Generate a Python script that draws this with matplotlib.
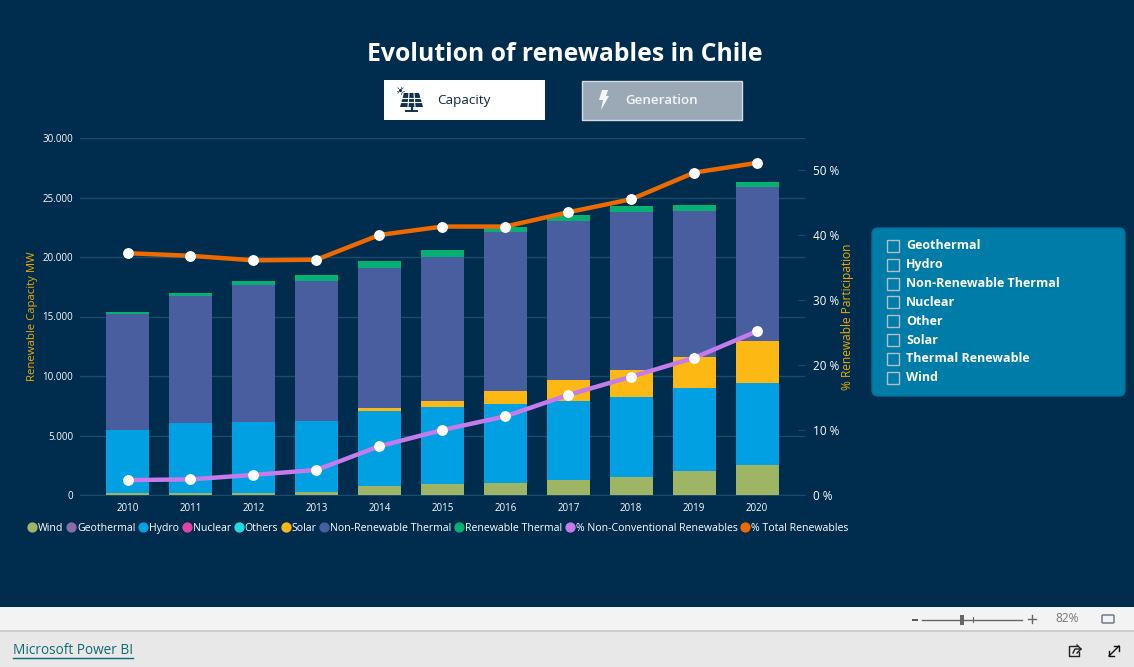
import matplotlib
matplotlib.use("Agg")
import matplotlib.pyplot as plt
import numpy as np
from matplotlib.lines import Line2D
from matplotlib.patches import Rectangle, FancyBboxPatch, Polygon, Circle

W, H = 1134, 667
FONT = "Open Sans"
plt.rcParams["font.family"] = [FONT, "DejaVu Sans"]

years = ["2010", "2011", "2012", "2013", "2014", "2015", "2016", "2017", "2018", "2019", "2020"]
wind = [150, 150, 150, 250, 750, 920, 1000, 1270, 1550, 2000, 2550]
geothermal = [0, 0, 0, 0, 0, 0, 0, 0, 0, 0, 0]
hydro = [5350, 5900, 5950, 5950, 6300, 6480, 6650, 6630, 6650, 7000, 6850]
nuclear = [0, 0, 0, 0, 0, 0, 0, 0, 0, 0, 0]
others = [0, 0, 0, 0, 0, 0, 0, 0, 0, 0, 0]
solar = [0, 0, 0, 20, 250, 500, 1100, 1750, 2300, 2600, 3550]
non_renewable = [9700, 10700, 11550, 11780, 11800, 12100, 13350, 13350, 13300, 12300, 12900]
renewable_thermal = [150, 250, 300, 450, 550, 550, 450, 500, 500, 500, 450]
pct_nonconv = [2.3, 2.4, 3.1, 3.85, 7.5, 10.0, 12.1, 15.4, 18.2, 21.1, 25.2]
pct_total = [37.2, 36.8, 36.1, 36.2, 40.0, 41.3, 41.3, 43.5, 45.5, 49.6, 51.1]
cap_ticks = [0, 5000, 10000, 15000, 20000, 25000, 30000]
pct_ticks = [0, 10, 20, 30, 40, 50]
slicer_items = ["Geothermal", "Hydro", "Non-Renewable Thermal", "Nuclear", "Other", "Solar",
                "Thermal Renewable", "Wind"]

BG = "#002C4D"
ORANGE = "#F2A900"
stack = [("Wind", wind, "#9FB566"), ("Geothermal", geothermal, "#8B6BA8"), ("Hydro", hydro, "#00A0E3"),
         ("Nuclear", nuclear, "#E044A7"), ("Others", others, "#1FDCE0"), ("Solar", solar, "#FDB813"),
         ("Non-Renewable Thermal", non_renewable, "#485E9F"), ("Renewable Thermal", renewable_thermal, "#06B072")]

fig = plt.figure(figsize=(W / 100, H / 100), dpi=100, facecolor=BG)

# page furniture, in pixel coordinates
pg = fig.add_axes([0, 0, 1, 1], zorder=0)
pg.set_xlim(0, W); pg.set_ylim(H, 0); pg.axis("off")
pg.add_patch(Rectangle((0, 607), W, 23, fc="#F3F3F3", ec="none"))
pg.add_patch(Rectangle((0, 630), W, 37, fc="#E8E8E8", ec="none"))
pg.plot([0, W], [630.5, 630.5], color="#C8C8C8", lw=1.2)
pg.text(565, 54.5, "Evolution of renewables in Chile", color="white", fontsize=17.8, weight="bold",
        ha="center", va="center")

# buttons
pg.add_patch(Rectangle((384, 80), 161, 39.5, fc="white", ec="none"))
pg.text(437, 100.5, "Capacity", color="#0B2A45", fontsize=9.7, va="center")
pg.add_patch(Rectangle((581.5, 80.5), 160, 39, fc="#9AA9B5", ec="#D5DCE1", lw=1))
pg.text(625.5, 100.5, "Generation", color="#F4F6F7", fontsize=9.6, weight="semibold", va="center")
# solar panel icon
pg.add_patch(Polygon([(404, 93), (419, 93), (423, 107), (400, 107)], fc="#0E3350", ec="none"))
for y in (97.5, 102):
    pg.plot([401, 422], [y, y], color="white", lw=0.8)
for xb, xt in ((408, 409), (415, 414)):
    pg.plot([xb, xt], [107, 93], color="white", lw=0.8)
pg.plot([411.5, 411.5], [107, 110], color="#0E3350", lw=1.6)
pg.plot([406, 417], [110.5, 110.5], color="#0E3350", lw=1.4)
pg.add_patch(Circle((400.5, 90.5), 1.6, fc="#0E3350", ec="none"))
for a in np.deg2rad(np.arange(0, 360, 45)):
    pg.plot([400.5 + 2.4 * np.cos(a), 400.5 + 3.8 * np.cos(a)],
            [90.5 + 2.4 * np.sin(a), 90.5 + 3.8 * np.sin(a)], color="#0E3350", lw=0.5)
# lightning icon
pg.add_patch(Polygon([(602, 90), (608, 90), (606, 96), (609, 96), (601, 110), (603, 100), (599, 100)],
                     fc="#F4F6F7", ec="none"))

# slicer
box = FancyBboxPatch((875, 231), 247, 162, boxstyle="round,pad=3,rounding_size=6",
                     fc="#007CA8", ec="#006F98", lw=1)
pg.add_patch(box)
for i, item in enumerate(slicer_items):
    y = 245.8 + i * 18.85
    pg.add_patch(Rectangle((886.5, y - 6), 12, 12, fc="none", ec="#B4BEC4", lw=1))
    pg.text(906, y, item, color="white", fontsize=9.0, weight="bold", va="center")

# footer
pg.text(13, 651, "Microsoft Power BI", color="#0F6A6F", fontsize=9.8, va="center")
pg.plot([13, 133], [658, 658], color="#0F6A6F", lw=1)
pg.plot([922, 1022], [619.5, 619.5], color="#666666", lw=1)
pg.add_patch(Rectangle((960, 615), 4, 10, fc="#666666", ec="none"))
pg.plot([972.5, 972.5], [617, 622], color="#666666", lw=0.8)
pg.plot([913, 917], [619.5, 619.5], color="#555555", lw=1.4)
pg.plot([1028, 1036], [619, 619], color="#666666", lw=1)
pg.plot([1032, 1032], [615, 623], color="#666666", lw=1)
pg.text(1067, 619, "82%", color="#777777", fontsize=8.6, ha="center", va="center")
pg.add_patch(FancyBboxPatch((1102, 615), 12, 8, boxstyle="round,pad=0,rounding_size=1", fc="none",
                            ec="#667080", lw=1))
# share icon
pg.plot([1077, 1069, 1069, 1079, 1079], [646, 646, 656, 656, 652], color="#222222", lw=1)
pg.plot([1073, 1075, 1081], [653, 649, 649], color="#222222", lw=1)
pg.plot([1077, 1081, 1077], [645, 649, 653], color="#222222", lw=1)
# expand icon
pg.plot([1109, 1119], [656, 646], color="#111111", lw=1)
pg.plot([1114, 1119, 1119], [646, 646, 651], color="#111111", lw=1)
pg.plot([1109, 1109, 1114], [651, 656, 656], color="#111111", lw=1)

# chart
L, R, T, B = 80, 805, 138, 495
ax = fig.add_axes([L / W, 1 - B / H, (R - L) / W, (B - T) / H], zorder=1)
ax.patch.set_alpha(0)
x = np.arange(len(years))
bottom = np.zeros(len(years))
for name, vals, col in stack:
    ax.bar(x, vals, bottom=bottom, width=0.685, color=col, label=name, zorder=3)
    bottom += np.array(vals)
ax.set_xlim(-0.755, 10.76)
ax.set_ylim(0, 30000)
ax.set_xticks(x, years)
ax.set_yticks(cap_ticks, [f"{v:,}".replace(",", ".") for v in cap_ticks])
ax.tick_params(axis="both", length=0, colors="white", labelsize=7)
ax.tick_params(axis="x", pad=6)
ax.tick_params(axis="y", pad=5)
ax.grid(axis="y", color="#1B4B6C", lw=1, zorder=0)
ax.set_axisbelow(True)
for s in ("top", "left", "right"):
    ax.spines[s].set_visible(False)
ax.spines["bottom"].set_color("#1B4B6C")
ax.set_ylabel("Renewable Capacity MW", color=ORANGE, fontsize=8.2, labelpad=0)
ax.yaxis.set_label_coords((38 - L) / (R - L), 0.5)

ax2 = ax.twinx()
ax2.patch.set_alpha(0)
ax2.set_ylim(0, 357 / 6.5)
ax2.plot(x, pct_nonconv, color="#C57BEA", lw=3.2, marker="o", ms=6.8, mfc="white", mec="white",
         label="% Non-Conventional Renewables", zorder=5, solid_capstyle="round")
ax2.plot(x, pct_total, color="#EE6A00", lw=3.2, marker="o", ms=6.8, mfc="white", mec="white",
         label="% Total Renewables", zorder=5, solid_capstyle="round")
ax2.set_yticks(pct_ticks, [f"{v} %" for v in pct_ticks])
ax2.tick_params(axis="y", length=5, direction="in", color="#1B4B6C", labelcolor="white", labelsize=8.5, pad=5.5)
for s in ax2.spines.values():
    s.set_visible(False)
ax2.set_ylabel("% Renewable Participation", color=ORANGE, fontsize=8.6, labelpad=0)
ax2.yaxis.set_label_coords((841 - L) / (R - L), 0.5)

# legend
handles = [Line2D([], [], ls="", marker="o", ms=6.4, mfc=c, mec=c, label=n) for n, _, c in stack]
handles += [Line2D([], [], ls="", marker="o", ms=6.4, mfc="#C57BEA", mec="#C57BEA", label="% Non-Conventional Renewables"),
            Line2D([], [], ls="", marker="o", ms=6.4, mfc="#EE6A00", mec="#EE6A00", label="% Total Renewables")]
fig.legend(handles=handles, ncol=10, frameon=False, labelcolor="white", fontsize=7.55,
           loc="center left", bbox_to_anchor=(28 / W, 1 - 528.5 / H), borderaxespad=0, borderpad=0,
           handlelength=0.8, handletextpad=0.15, columnspacing=0.35)

fig.savefig("out.png", dpi=100, facecolor=BG)
